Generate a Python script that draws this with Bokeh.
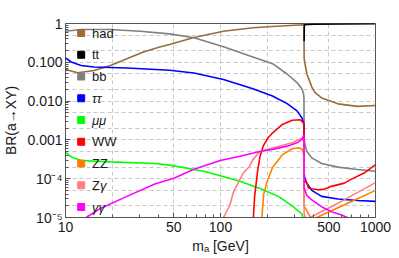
from bokeh.plotting import figure
from bokeh.models import Range1d, FixedTicker
from bokeh.embed import file_html
from bokeh.resources import INLINE
from bokeh.core.properties import value

# ---------------- data ----------------
m_had = [10, 12.0, 15.3, 19.5, 24.9, 31.8, 40.5, 46.9, 67.4, 104.5, 161.8, 216.5, 280, 345.5,
         346.5, 350, 360.6, 388, 406, 449, 573, 766, 1000]
br_had = [0.0655, 0.0538, 0.0617, 0.083, 0.124, 0.185, 0.249, 0.286, 0.434, 0.63, 0.774, 0.836, 0.89, 0.925,
          0.125, 0.097, 0.0507, 0.0233, 0.0168, 0.0121, 0.0085, 0.0073, 0.0077]

m_tt = [346.5, 347.5, 400, 1000]
br_tt = [0.35, 0.93, 0.965, 0.985]

m_bb = [10, 12.6, 19.5, 30.3, 46.9, 67.4, 104.5, 161.8, 216.5, 269, 311.6, 335, 343, 345.5,
        346.5, 350, 360.6, 388, 449, 573, 766, 1000]
br_bb = [0.63, 0.70, 0.70, 0.63, 0.54, 0.43, 0.25, 0.137, 0.092, 0.050, 0.030, 0.0207, 0.016, 0.0125,
         0.00105, 7.8e-4, 5.1e-4, 3.44e-4, 2.46e-4, 1.99e-4, 1.73e-4, 1.56e-4]

m_tau = [10, 10.9, 12.6, 15.3, 24.9, 46.9, 67.4, 104.5, 161.8, 216.5, 269, 311.6, 335, 345.5,
         346.5, 350, 360.6, 388, 449, 573, 766, 1000]
br_tau = [0.129, 0.102, 0.083, 0.0756, 0.0712, 0.0624, 0.0528, 0.036, 0.0207, 0.0135, 0.0086, 0.0056, 0.00374, 0.00252,
          1.38e-4, 1.02e-4, 7.6e-5, 5.0e-5, 3.5e-5, 3.0e-5, 2.75e-5, 2.6e-5]

m_mu = [10, 10.9, 12.6, 19.5, 37.7, 46.9, 78, 99.7, 133.4, 187, 239, 290, 335, 345.5, 346.5]
br_mu = [4.83e-4, 3.65e-4, 2.94e-4, 2.71e-4, 2.47e-4, 2.24e-4, 1.56e-4, 1.19e-4, 8.6e-5, 5.3e-5, 3.4e-5,
         2.0e-5, 1.23e-5, 8.0e-6, 4e-7]

m_ww = [161.8, 163, 166, 174, 180, 188.5, 202, 216.5, 250.6, 290, 327, 343, 345.5,
        346.5, 350, 360.6, 369.7, 388, 428, 471, 519, 630, 695, 844, 1000]
br_ww = [1e-7, 1e-5, 3.5e-5, 1.7e-4, 3.8e-4, 6.9e-4, 1.12e-3, 1.5e-3, 2.5e-3, 3.2e-3, 3.3e-3, 2.72e-3, 2.3e-3,
         1.1e-4, 9.0e-5, 7.6e-5, 5.75e-5, 5.5e-5, 5.2e-5, 5.4e-5, 6.35e-5, 7.7e-5, 9.6e-5, 1.4e-4, 2.3e-4]

m_zz = [182.5, 185, 190, 200, 216.5, 250, 290, 319, 335, 343.6, 345.5,
        346.5, 360.6, 377, 393, 417, 519, 695, 1000]
br_zz = [1e-7, 1e-5, 4e-5, 8.5e-5, 1.95e-4, 4.1e-4, 5.9e-4, 6.3e-4, 5.8e-4, 4.5e-4, 3.2e-4,
         1.93e-5, 1.5e-5, 1.07e-5, 9e-6, 1.0e-5, 1.49e-5, 2.56e-5, 5.0e-5]

m_zg = [91.5, 95, 100, 104.5, 115, 120.8, 133.4, 139.9, 154, 161.8, 179, 216.5, 290, 335, 344, 345.5,
        346.5, 356, 367, 377, 519, 695, 1000]
br_zg = [1e-8, 1e-6, 4.5e-6, 1e-5, 2.1e-5, 4.36e-5, 9.6e-5, 1.38e-4, 2.1e-4, 3.1e-4, 5.0e-4, 6.2e-4, 8.4e-4,
         1.11e-3, 9.3e-4, 7.8e-4,
         1.2e-5, 9.5e-6, 8.9e-6, 1.0e-5, 1.9e-5, 3.56e-5, 7.9e-5]

m_gg = [10, 11.7, 13.6, 16.9, 24.9, 37.7, 50.4, 67.4, 99.7, 133.4, 182, 216.5, 269, 311.6, 335, 345.5,
        346.5, 360.6, 388, 449, 519, 600, 674, 800]
br_gg = [9.8e-6, 9.0e-6, 1.0e-5, 1.74e-5, 3.5e-5, 7.3e-5, 1.04e-4, 1.75e-4, 2.95e-4, 3.8e-4, 5.1e-4, 5.7e-4,
         6.9e-4, 8.4e-4, 1.03e-3, 1.35e-3,
         5.7e-5, 3.7e-5, 2.84e-5, 1.9e-5, 1.4e-5, 1.17e-5, 9.6e-6, 6e-6]

channels = ["had", "tt", "bb", "ττ", "μμ", "WW", "ZZ", "Zγ", "γγ"]
colors = ["#9C6B3A", "#000000", "#808080", "#0000FF", "#00FF00", "#FF0000", "#FF8000", "#FF8080", "#FF00FF"]
series = [(m_had, br_had), (m_tt, br_tt), (m_bb, br_bb), (m_tau, br_tau), (m_mu, br_mu),
          (m_ww, br_ww), (m_zz, br_zz), (m_zg, br_zg), (m_gg, br_gg)]

x_major = [10, 50, 100, 500, 1000]
x_grid = [10, 20, 50, 100, 200, 500, 1000]
x_minor = [20, 30, 40, 60, 70, 80, 90, 200, 300, 400, 600, 700, 800, 900]
y_major = [1e-5, 1e-4, 1e-3, 1e-2, 1e-1, 1.0]
y_labels = ["10⁻⁵", "10⁻⁴", "0.001", "0.010", "0.100", "1"]

# ---------------- layout ----------------
W, H = 399, 258
FL, FR, FT, FB = 59, 24, 23, 41
FW, FH = W - FL - FR, H - FT - FB

def dx(px):  # canvas px -> data x
    return 10 ** (1 + (px - FL) / (FW / 2.0))

def dy(py):  # canvas px -> data y
    return 10 ** (-(py - FT) / (FH / 5.0))

p = figure(width=W, height=H, x_axis_type="log", y_axis_type="log",
           x_range=Range1d(10, 1000), y_range=Range1d(1e-5, 1),
           output_backend="svg", toolbar_location=None,
           min_border_left=FL, min_border_right=FR, min_border_top=FT, min_border_bottom=FB)

p.background_fill_color = "white"
p.border_fill_color = "white"
p.outline_line_color = "#555555"
p.outline_line_width = 1

y_minor = [k * 10.0 ** e for e in range(-5, 0) for k in range(2, 10)]
y_grid = [k * 10.0 ** e for e in range(-5, 0) for k in (1, 2, 5)] + [1.0]

p.xaxis.ticker = FixedTicker(ticks=x_major, minor_ticks=x_minor)
p.yaxis.ticker = FixedTicker(ticks=y_major, minor_ticks=y_minor)
p.xgrid.ticker = FixedTicker(ticks=x_grid)
p.ygrid.ticker = FixedTicker(ticks=y_grid)
p.xaxis.major_label_overrides = {v: str(v) for v in x_major}
p.yaxis.major_label_overrides = {v: l for v, l in zip(y_major, y_labels)}

for g in (p.xgrid, p.ygrid):
    g.grid_line_color = "#c8c8c8"
    g.grid_line_dash = "4 3"
    g.grid_line_width = 1

for ax in (p.xaxis, p.yaxis):
    ax.axis_line_color = "#555555"
    ax.major_tick_line_color = "#555555"
    ax.minor_tick_line_color = "#555555"
    ax.major_tick_in = 5
    ax.major_tick_out = 0
    ax.minor_tick_in = 3
    ax.minor_tick_out = 0
    ax.major_label_text_font = "Liberation Sans"
    ax.major_label_text_font_size = "14px"
    ax.major_label_text_color = "#1a1a1a"
    ax.axis_label_text_font = "Liberation Sans"
    ax.axis_label_text_font_size = "14px"
    ax.axis_label_text_font_style = "normal"
    ax.axis_label_text_color = "#1a1a1a"

p.xaxis.major_label_standoff = 4
p.yaxis.major_label_standoff = 3
p.xaxis.axis_label = "mₐ [GeV]"
p.yaxis.axis_label = "BR(a→XY)"
p.xaxis.axis_label_standoff = 3
p.yaxis.axis_label_standoff = 5

for (mx, by), c in zip(series, colors):
    p.line(mx, by, line_color=c, line_width=1.6)

# ---------------- legend (inside the frame) ----------------
leg_x = dx(75)
txt_x = dx(86)
leg_y = [dy(32.5 + i * 21.75) for i in range(len(channels))]
p.scatter([leg_x] * len(channels), leg_y, marker="square", size=7, fill_color=colors, line_color=colors)

italic = {"ττ", "μμ", "γγ"}
norm_idx = [i for i, c in enumerate(channels) if c not in italic and c != "Zγ"]
ital_idx = [i for i, c in enumerate(channels) if c in italic]
zg = channels.index("Zγ")
txt_kw = dict(text_baseline="middle", text_font=value("Liberation Sans"), text_font_size="13px",
              text_color="#1a1a1a")
p.text([txt_x] * len(norm_idx), [leg_y[i] for i in norm_idx], text=[channels[i] for i in norm_idx], **txt_kw)
p.text([txt_x] * len(ital_idx), [leg_y[i] for i in ital_idx], text=[channels[i] for i in ital_idx],
       text_font_style="italic", **txt_kw)
p.text([txt_x], [leg_y[zg]], text=["Z"], **txt_kw)
p.text([txt_x], [leg_y[zg]], text=["γ"], x_offset=8, text_font_style="italic", **txt_kw)

open("out.html", "w").write(file_html(p, INLINE))
